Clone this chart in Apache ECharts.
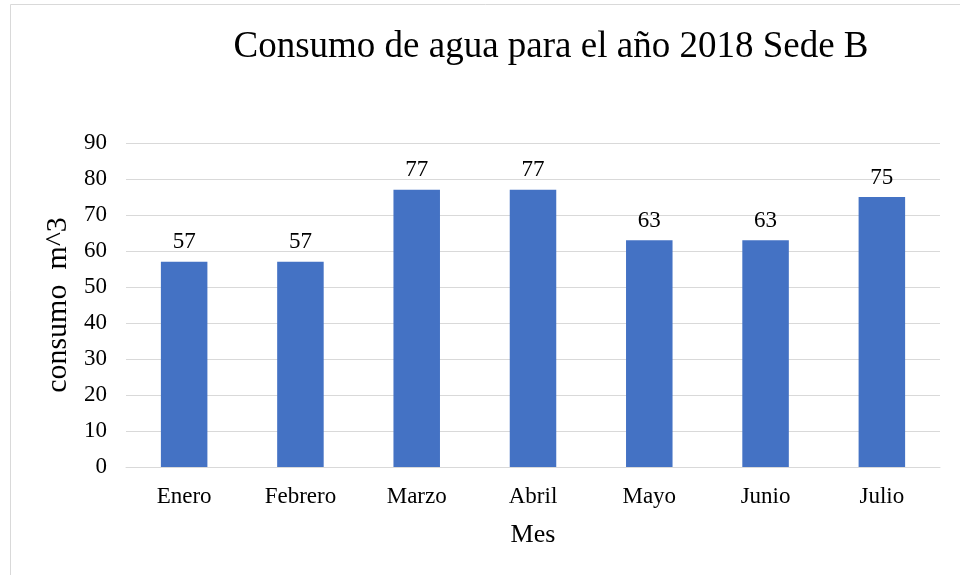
<!DOCTYPE html>
<html>
<head>
<meta charset="utf-8">
<script src="https://cdn.jsdelivr.net/npm/echarts@6/dist/echarts.min.js"></script>
<style>
  html, body { margin: 0; padding: 0; background: #fff; }
  #main { width: 960px; height: 575px; }
</style>
</head>
<body>
<div id="main"></div>
<script>
// datos del gráfico
const meses = ['Enero', 'Febrero', 'Marzo', 'Abril', 'Mayo', 'Junio', 'Julio'];
const consumo = [57, 57, 77, 77, 63, 63, 75];
const yTicks = { min: 0, max: 90, step: 10 };

const fuente = '"Liberation Serif", "Times New Roman", serif';
const chart = echarts.init(document.getElementById('main'));

let option = {
  animation: false,
  textStyle: { fontFamily: fuente },
  graphic: [
    {
      type: 'rect',
      shape: { x: 10.5, y: 4.5, width: 1000, height: 1000 },
      style: { fill: 'none', stroke: '#d9d9d9', lineWidth: 1 }
    }
  ],
  title: {
    text: 'Consumo de agua para el año 2018 Sede B',
    left: 546,
    top: 24,
    textAlign: 'center',
    textStyle: { fontFamily: fuente, fontSize: 37, fontWeight: 'normal', color: '#000' }
  },
  grid: {
    left: 126,
    right: 20,
    top: 143,
    bottom: 108
  },
  xAxis: {
    type: 'category',
    data: meses,
    name: 'Mes',
    nameLocation: 'middle',
    nameGap: 55,
    nameTextStyle: { fontFamily: fuente, fontSize: 26, color: '#000' },
    axisLine: { show: true, lineStyle: { color: '#d9d9d9', width: 1 } },
    axisTick: { show: false },
    axisLabel: { fontFamily: fuente, fontSize: 23, color: '#000', margin: 18 }
  },
  yAxis: {
    type: 'value',
    min: yTicks.min,
    max: yTicks.max,
    interval: yTicks.step,
    name: 'consumo  m^3',
    nameLocation: 'middle',
    nameGap: 50,
    nameRotate: 90,
    nameTextStyle: { fontFamily: fuente, fontSize: 30, color: '#000' },
    axisLine: { show: false },
    axisTick: { show: false },
    axisLabel: { fontFamily: fuente, fontSize: 23, color: '#000', margin: 19 },
    splitLine: { lineStyle: { color: '#d9d9d9', width: 1 } }
  },
  series: [
    {
      type: 'bar',
      data: consumo,
      barWidth: '40%',
      itemStyle: { color: '#4472c4' },
      label: {
        show: true,
        position: 'top',
        distance: 8,
        fontFamily: fuente,
        fontSize: 23,
        color: '#000'
      }
    }
  ]
};
chart.setOption(option);
</script>
</body>
</html>
